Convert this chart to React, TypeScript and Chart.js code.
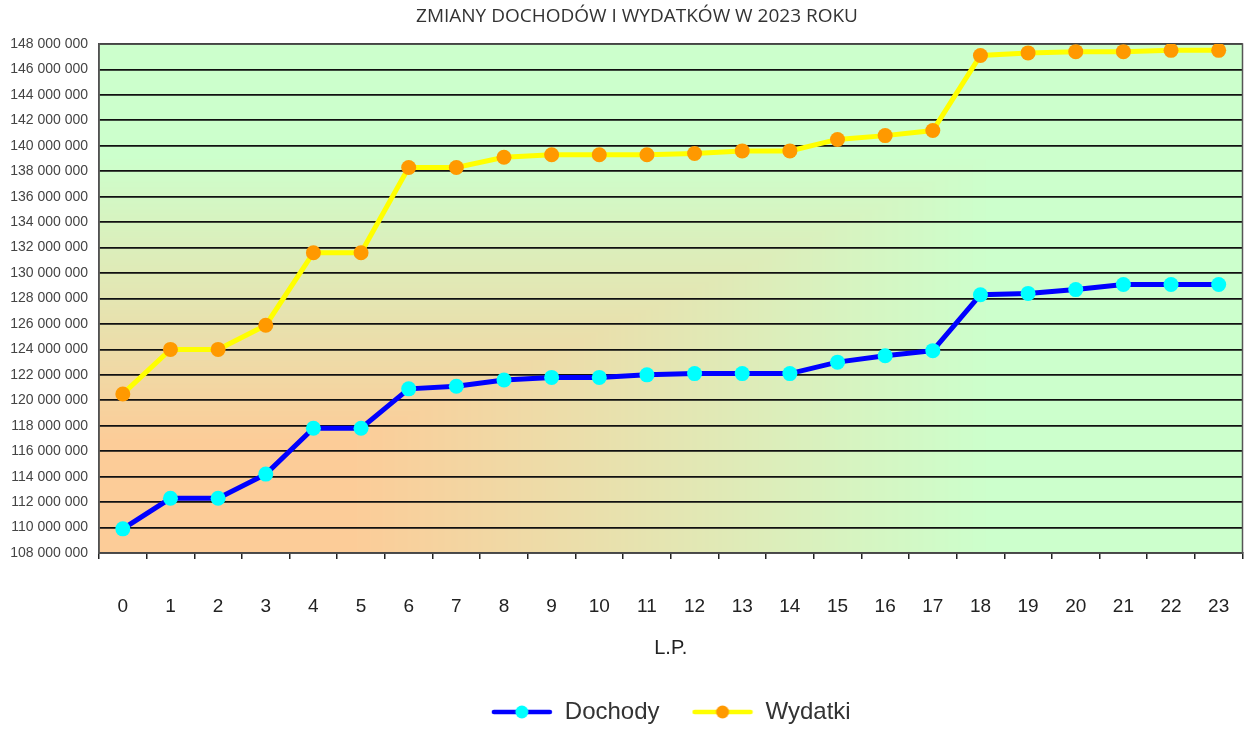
import React, { useEffect, useRef } from "react";
import { Chart, registerables } from "chart.js";

Chart.register(...registerables);

const chartTitle = "ZMIANY DOCHODÓW I WYDATKÓW W 2023 ROKU";
const xAxisTitle = "L.P.";
const categories = ["0", "1", "2", "3", "4", "5", "6", "7", "8", "9", "10", "11", "12", "13", "14", "15", "16", "17", "18", "19", "20", "21", "22", "23"];
const seriesNames = ["Dochody", "Wydatki"];
const dochody = [109900000, 112300000, 112300000, 114200000, 117800000, 117800000, 120900000, 121100000, 121600000, 121800000, 121800000, 122000000, 122100000, 122100000, 122100000, 123000000, 123500000, 123900000, 128300000, 128400000, 128700000, 129100000, 129100000, 129100000];
const wydatki = [120500000, 124000000, 124000000, 125900000, 131600000, 131600000, 138300000, 138300000, 139100000, 139300000, 139300000, 139300000, 139400000, 139600000, 139600000, 140500000, 140800000, 141200000, 147100000, 147300000, 147400000, 147400000, 147500000, 147500000];
const yMin = 108000000;
const yMax = 148000000;
const yStep = 2000000;

const lineColors = ["#0000FF", "#FFFF00"];
const pointColors = ["#00FFFF", "#FF9900"];

const W = 1250;
const H = 729;

function formatPL(v: number): string {
  return String(Math.round(v)).replace(/\B(?=(\d{3})+(?!\d))/g, " ");
}

function legendMarker(line: string, dot: string): HTMLCanvasElement {
  const c = document.createElement("canvas");
  c.width = 62;
  c.height = 16;
  const g = c.getContext("2d")!;
  g.strokeStyle = line;
  g.lineWidth = 4.5;
  g.lineCap = "round";
  g.beginPath();
  g.moveTo(3, 8);
  g.lineTo(59, 8);
  g.stroke();
  g.fillStyle = dot;
  g.beginPath();
  g.arc(31, 8, 6.5, 0, Math.PI * 2);
  g.fill();
  return c;
}

const peach = [252, 204, 152];
const green = [204, 255, 204];

const bgPlugin = {
  id: "cornerGradient",
  beforeDraw(chart: any) {
    const { ctx, chartArea } = chart;
    if (!chartArea) return;
    const left = Math.round(chartArea.left);
    const top = Math.round(chartArea.top);
    const w = Math.round(chartArea.right) - left;
    const h = Math.round(chartArea.bottom) - top;
    const off = document.createElement("canvas");
    off.width = w;
    off.height = h;
    const g = off.getContext("2d")!;
    const img = g.createImageData(w, h);
    const d = img.data;
    for (let y = 0; y < h; y++) {
      const ty = (h - y) / h;
      for (let x = 0; x < w; x++) {
        const tx = x / w;
        const t = Math.max(tx, ty);
        let f = (t - 0.22) / 0.56;
        if (f < 0) f = 0;
        if (f > 1) f = 1;
        const i = (y * w + x) * 4;
        d[i] = peach[0] + (green[0] - peach[0]) * f;
        d[i + 1] = peach[1] + (green[1] - peach[1]) * f;
        d[i + 2] = peach[2] + (green[2] - peach[2]) * f;
        d[i + 3] = 255;
      }
    }
    g.putImageData(img, 0, 0);
    ctx.save();
    ctx.drawImage(off, left, top);
    ctx.restore();
  },
  beforeDatasetsDraw(chart: any) {
    const { ctx, chartArea } = chart;
    ctx.save();
    ctx.strokeStyle = "#555555";
    ctx.lineWidth = 1.5;
    ctx.strokeRect(chartArea.left, chartArea.top, chartArea.right - chartArea.left, chartArea.bottom - chartArea.top);
    ctx.restore();
  },
  afterDraw(chart: any) {
    const { ctx } = chart;
    ctx.save();
    ctx.fillStyle = "#333333";
    ctx.font = "19px 'Open Sans', sans-serif";
    ctx.textAlign = "center";
    ctx.textBaseline = "middle";
    ctx.fillText(chartTitle, 637, 17);
    ctx.restore();
  },
};

export default function App() {
  const canvasRef = useRef<HTMLCanvasElement | null>(null);

  useEffect(() => {
    if (!canvasRef.current) return;
    const markers = [legendMarker(lineColors[0], pointColors[0]), legendMarker(lineColors[1], pointColors[1])];
    const chart = new Chart(canvasRef.current, {
      type: "line",
      data: {
        labels: categories,
        datasets: [
          {
            label: seriesNames[0],
            data: dochody,
            borderColor: lineColors[0],
            backgroundColor: pointColors[0],
            borderWidth: 5,
            pointRadius: 7.5,
            pointBorderWidth: 0,
            pointBackgroundColor: pointColors[0],
            tension: 0,
          },
          {
            label: seriesNames[1],
            data: wydatki,
            borderColor: lineColors[1],
            backgroundColor: pointColors[1],
            borderWidth: 5,
            pointRadius: 7.5,
            pointBorderWidth: 0,
            pointBackgroundColor: pointColors[1],
            tension: 0,
          },
        ],
      },
      options: {
        animation: false,
        responsive: false,
        maintainAspectRatio: false,
        devicePixelRatio: 1,
        layout: { padding: { left: 0, right: 6, top: 44, bottom: -5 } },
        plugins: {
          title: { display: false },
          legend: {
            position: "bottom",
            fullSize: false,
            labels: {
              usePointStyle: true,
              pointStyleWidth: 62,
              padding: 32,
              color: "#333333",
              font: { family: "'Liberation Sans', Arial, sans-serif", size: 24 },
              generateLabels: (c: any) => {
                const items = (Chart.defaults as any).plugins.legend.labels.generateLabels(c);
                items.forEach((it: any, i: number) => {
                  it.pointStyle = markers[i];
                });
                return items;
              },
            },
          },
          tooltip: { enabled: false },
        },
        scales: {
          x: {
            offset: true,
            afterFit: (s: any) => {
              s.height = 115;
              s.paddingLeft = 0;
              s.paddingRight = 0;
            },
            grid: {
              display: true,
              drawOnChartArea: false,
              offset: true,
              color: "#222222",
              lineWidth: 1.5,
              tickLength: 6,
            },
            border: { color: "#222222", width: 1.5 },
            ticks: {
              color: "#222222",
              padding: 36,
              maxRotation: 0,
              autoSkip: false,
              font: { family: "'Liberation Sans', Arial, sans-serif", size: 19 },
            },
            title: {
              display: true,
              text: xAxisTitle,
              color: "#222222",
              font: { family: "'Liberation Sans', Arial, sans-serif", size: 20 },
              padding: { top: 0, bottom: 8 },
            },
          },
          y: {
            min: yMin,
            max: yMax,
            afterFit: (s: any) => {
              s.width = 99;
            },
            grid: {
              color: "#111111",
              lineWidth: 1.75,
              drawTicks: false,
            },
            border: { color: "#444444", width: 1.5 },
            ticks: {
              stepSize: yStep,
              padding: 11,
              color: "#444444",
              font: { family: "'Liberation Sans', Arial, sans-serif", size: 14 },
              callback: (v: any) => formatPL(Number(v)),
            },
          },
        },
      },
      plugins: [bgPlugin],
    });
    return () => chart.destroy();
  }, []);

  return (
    <div style={{ position: "fixed", left: 0, top: 0, width: W, height: H, background: "#ffffff" }}>
      <canvas ref={canvasRef} width={W} height={H} style={{ display: "block", width: W, height: H }} />
    </div>
  );
}
